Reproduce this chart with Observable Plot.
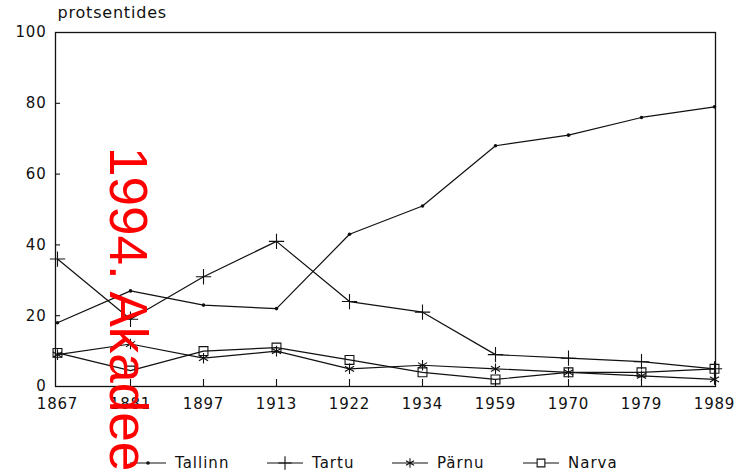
<!DOCTYPE html>
<html>
<head>
<meta charset="utf-8">
<script src="https://cdn.jsdelivr.net/npm/d3@7"></script>
<script src="https://cdn.jsdelivr.net/npm/@observablehq/plot@0.6"></script>
<style>
  html, body { margin: 0; padding: 0; background: #fff; }
  #wrap { position: relative; width: 736px; height: 472px; overflow: hidden; font-family: "DejaVu Sans", sans-serif; }
  #chart svg text { letter-spacing: 0.8px; }
  #legend { position: absolute; top: 453px; left: 0; width: 736px; height: 22px; font-size: 15px; color: #111; letter-spacing: 1px; }
  .item { position: absolute; top: 0; display: flex; align-items: center; gap: 9px; }
  #wm { position: absolute; left: 155px; top: 147px; transform-origin: 0 0; transform: rotate(90deg);
        font-family: "Liberation Sans", Arial, sans-serif; font-size: 53px; line-height: 1; color: #ff0000; white-space: nowrap; }
</style>
</head>
<body>
<div id="wrap">
  <div id="chart"></div>
  <div id="legend"></div>
  <div id="wm">1994. Akadeemia</div>
</div>
<script>
const years = ["1867","1881","1897","1913","1922","1934","1959","1970","1979","1989"];
const tallinn = [18,27,23,22,43,51,68,71,76,79];
const tartu   = [36,19,31,41,24,21,9,8,7,5];
const parnu   = [9,12,8,10,5,6,5,4,3,2];
const narva   = [9.5,4.5,10,11,7.5,4,2,4,4,5];
const seriesNames = ["Tallinn","Tartu","Pärnu","Narva"];
const seriesValues = [tallinn, tartu, parnu, narva];
const seriesSymbols = ["circle","plus","asterisk","square"];
const yTicks = [0,20,40,60,80,100];

const data = [];
seriesNames.forEach((name, i) => {
  years.forEach((yr, j) => data.push({series: name, year: yr, value: seriesValues[i][j]}));
});

const W = 736, H = 420, ML = 55, MR = 21, MT = 32, MB = 34;
const frameW = W - ML - MR, frameH = H - MT - MB;

const chart = Plot.plot({
  width: W,
  height: H,
  marginLeft: ML,
  marginRight: MR,
  marginTop: MT,
  marginBottom: MB,
  style: {fontFamily: "DejaVu Sans, sans-serif", fontSize: "15px", color: "#111", background: "#fff", overflow: "visible"},
  x: {type: "point", domain: years, padding: 0},
  y: {domain: [0, 100]},
  symbol: {domain: seriesNames, range: seriesSymbols},
  marks: [
    Plot.frame({stroke: "#111", strokeWidth: 1.3}),
    Plot.axisY(yTicks, {tickSize: 0, tickPadding: 9, label: null}),
    Plot.axisX(years, {tickSize: 0, tickPadding: 12, label: null}),
    Plot.tickY(yTicks.slice(1, -1), {y: d => d, insetRight: frameW - 5, stroke: "#111", strokeWidth: 1.1}),
    Plot.tickX(years.slice(1, -1), {x: d => d, insetTop: frameH - 7, stroke: "#111", strokeWidth: 1.1}),
    Plot.text(["protsentides"], {frameAnchor: "top-left", dx: 2, dy: -26, textAnchor: "start", fontSize: 16}),
    Plot.line(data, {x: "year", y: "value", z: "series", stroke: "#111", strokeWidth: 1.2}),
    Plot.dot(data.filter(d => d.series === "Tallinn"), {x: "year", y: "value", r: 1.8, fill: "#111", stroke: "none"}),
    Plot.dot(data.filter(d => d.series !== "Tallinn"), {x: "year", y: "value", symbol: "series", r: 5, stroke: "#111", strokeWidth: 1.1, fill: "none"})
  ]
});
document.getElementById("chart").appendChild(chart);

// legend
const legendX = [130, 267, 392, 523];
const legend = document.getElementById("legend");
seriesNames.forEach((name, i) => {
  const item = document.createElement("div");
  item.className = "item";
  item.style.left = legendX[i] + "px";
  const svg = d3.create("svg").attr("width", 36).attr("height", 20);
  svg.append("line").attr("x1", 0).attr("x2", 36).attr("y1", 10).attr("y2", 10).attr("stroke", "#111").attr("stroke-width", 1.2);
  const sym = seriesSymbols[i];
  if (sym === "circle") {
    svg.append("circle").attr("cx", 18).attr("cy", 10).attr("r", 1.8).attr("fill", "#111");
  } else {
    const symType = {plus: d3.symbolPlus, asterisk: d3.symbolAsterisk, square: d3.symbolSquare}[sym];
    svg.append("path").attr("transform", "translate(18,10)")
      .attr("d", d3.symbol(symType, 60)())
      .attr("fill", sym === "square" ? "#fff" : "none").attr("stroke", "#111").attr("stroke-width", 1.1);
  }
  item.appendChild(svg.node());
  const span = document.createElement("span");
  span.textContent = name;
  item.appendChild(span);
  legend.appendChild(item);
});
</script>
</body>
</html>
